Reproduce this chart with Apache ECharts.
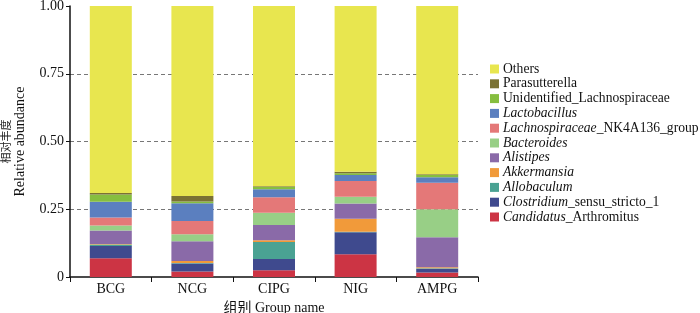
<!DOCTYPE html>
<html>
<head>
<meta charset="utf-8">
<script src="https://cdn.jsdelivr.net/npm/echarts@6/dist/echarts.min.js"></script>
<style>
  html, body { margin: 0; padding: 0; background: #fff; }
  #chart { width: 700px; height: 313px; }
</style>
</head>
<body>
<div id="chart"></div>
<script>
const groups = ["BCG", "NCG", "CIPG", "NIG", "AMPG"];
const yTicks = [0, 0.25, 0.5, 0.75, 1];

// bottom to top
const candidatus = [0.069, 0.020, 0.025, 0.084, 0.017];
const clostridium = [0.045, 0.030, 0.041, 0.081, 0.013];
const allobaculum = [0.006, 0.002, 0.063, 0.002, 0.002];
const akkermansia = [0.002, 0.007, 0.007, 0.048, 0.004];
const alistipes = [0.050, 0.073, 0.056, 0.056, 0.111];
const bacteroides = [0.018, 0.026, 0.045, 0.025, 0.103];
const lachnoNK = [0.030, 0.049, 0.057, 0.058, 0.098];
const lactobacillus = [0.058, 0.065, 0.030, 0.022, 0.020];
const unidentified = [0.026, 0.007, 0.008, 0.007, 0.008];
const parasutterella = [0.006, 0.020, 0.003, 0.005, 0.003];

const stack = [
  { name: "Candidatus_Arthromitus", label: "{i|Candidatus}_Arthromitus", color: "#cc3444", data: candidatus },
  { name: "Clostridium_sensu_stricto_1", label: "{i|Clostridium}_sensu_stricto_1", color: "#3f4a8e", data: clostridium },
  { name: "Allobaculum", label: "{i|Allobaculum}", color: "#4aa293", data: allobaculum },
  { name: "Akkermansia", label: "{i|Akkermansia}", color: "#f19a3a", data: akkermansia },
  { name: "Alistipes", label: "{i|Alistipes}", color: "#8a6aa8", data: alistipes },
  { name: "Bacteroides", label: "{i|Bacteroides}", color: "#98cf86", data: bacteroides },
  { name: "Lachnospiraceae_NK4A136_group", label: "{i|Lachnospiraceae}_NK4A136_group", color: "#e47878", data: lachnoNK },
  { name: "Lactobacillus", label: "{i|Lactobacillus}", color: "#5b7fbf", data: lactobacillus },
  { name: "Unidentified_Lachnospiraceae", label: "Unidentified_Lachnospiraceae", color: "#86be3f", data: unidentified },
  { name: "Parasutterella", label: "Parasutterella", color: "#7a7233", data: parasutterella }
];

const others = groups.map((g, i) => {
  let s = 0;
  stack.forEach(item => { s += item.data[i]; });
  return +(1 - s).toFixed(3);
});
stack.push({ name: "Others", label: "Others", color: "#e8e64f", data: others });

const labelMap = {};
stack.forEach(item => { labelMap[item.name] = item.label; });

const font = "'Liberation Serif', 'Noto Sans CJK SC', serif";

let mychart = echarts.init(document.getElementById("chart"));
mychart.setOption({
  animation: false,
  textStyle: { fontFamily: font },
  grid: { left: 70, right: 222, top: 6, bottom: 36, outerBoundsMode: "none", containLabel: false },
  legend: {
    orient: "vertical",
    left: 485,
    top: 57,
    itemWidth: 9,
    itemHeight: 9,
    itemGap: 0.8,
    icon: "rect",
    data: stack.map(item => item.name).reverse(),
    formatter: name => labelMap[name],
    textStyle: {
      fontFamily: font,
      fontSize: 13.6,
      lineHeight: 14,
      color: "#111",
      padding: [0, 0, 0, -1],
      rich: {
        i: { fontFamily: font, fontSize: 13.6, lineHeight: 14, fontStyle: "italic", color: "#111" }
      }
    }
  },
  xAxis: {
    type: "category",
    data: groups,
    name: "组别 Group name",
    nameLocation: "middle",
    nameGap: 23,
    nameTextStyle: { fontFamily: font, fontSize: 14, color: "#111" },
    axisLine: { lineStyle: { color: "#111", width: 1.5 } },
    axisTick: { show: true, length: 5, lineStyle: { color: "#111" } },
    axisLabel: { fontFamily: font, fontSize: 14, color: "#111", margin: 5 }
  },
  yAxis: {
    type: "value",
    min: yTicks[0],
    max: yTicks[yTicks.length - 1],
    interval: 0.25,
    name: "{cn|相对丰度}\n{en|Relative abundance}",
    nameLocation: "middle",
    nameGap: 43,
    nameTextStyle: {
      fontFamily: font, color: "#111",
      rich: {
        cn: { fontFamily: font, fontSize: 11, lineHeight: 12, color: "#222" },
        en: { fontFamily: font, fontSize: 14, lineHeight: 14, color: "#111" }
      }
    },
    axisLine: { show: true, lineStyle: { color: "#111", width: 1.5 } },
    axisTick: { show: true, length: 4, lineStyle: { color: "#111" } },
    axisLabel: {
      fontFamily: font, fontSize: 14, color: "#111", margin: 6,
      formatter: v => v === 0 ? "0" : v.toFixed(2)
    },
    splitLine: {
      show: true,
      lineStyle: { color: "#777", type: [4, 3], width: 1 },
      showMinLine: false,
      showMaxLine: false
    }
  },
  series: stack.map(item => ({
    name: item.name,
    type: "bar",
    stack: "total",
    barWidth: 42,
    data: item.data,
    itemStyle: { color: item.color }
  }))
});
</script>
</body>
</html>
